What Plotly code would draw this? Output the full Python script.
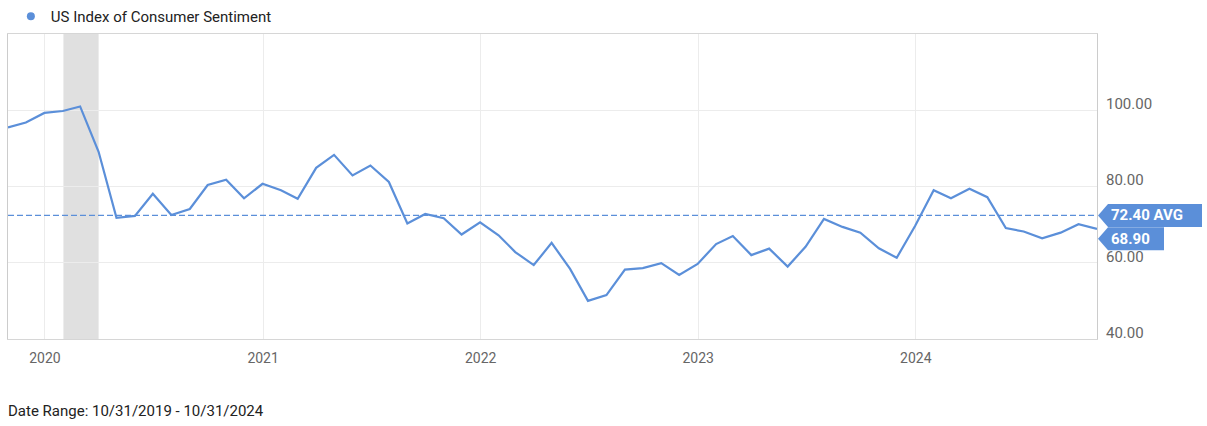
import pandas as pd
import plotly.graph_objects as go

# University of Michigan consumer sentiment, month-end readings
months = pd.date_range("2019-10-31", "2024-10-31", freq="ME")
sentiment = [
    95.5, 96.8, 99.3,                                                    # 2019
    99.8, 101.0, 89.1, 71.8, 72.3, 78.1, 72.5, 74.1, 80.4, 81.8, 76.9, 80.7,  # 2020
    79.0, 76.8, 84.9, 88.3, 82.9, 85.5, 81.2, 70.3, 72.8, 71.7, 67.4, 70.6,   # 2021
    67.2, 62.8, 59.4, 65.2, 58.4, 50.0, 51.5, 58.2, 58.6, 59.9, 56.8, 59.7,   # 2022
    64.9, 67.0, 62.0, 63.7, 59.0, 64.2, 71.5, 69.4, 67.9, 63.8, 61.3, 69.7,   # 2023
    79.0, 76.9, 79.4, 77.2, 69.1, 68.2, 66.4, 67.9, 70.1, 68.9,               # 2024
]
avg_value = 72.40
last_value = sentiment[-1]

recession_start = "2020-02-01"
recession_end = "2020-03-31"

year_ticks = ["2020-01-01", "2021-01-01", "2022-01-01", "2023-01-01", "2024-01-01"]
year_labels = ["2020", "2021", "2022", "2023", "2024"]
y_ticks = [40, 60, 80, 100]

series_name = "US Index of Consumer Sentiment"
date_range_text = "Date Range: 10/31/2019 - 10/31/2024"

blue = "#5B8FD9"
grid = "#ececec"
font = "Roboto"

fig = go.Figure()

fig.add_trace(go.Scatter(
    x=months, y=sentiment, mode="lines",
    line=dict(color=blue, width=2.2),
    showlegend=False, hoverinfo="skip",
))
# legend entry drawn as a dot
fig.add_trace(go.Scatter(
    x=[None], y=[None], mode="markers", name=series_name,
    marker=dict(color=blue, size=8),
))

# recession band
fig.add_shape(type="rect", xref="x", yref="paper",
              x0=recession_start, x1=recession_end, y0=0, y1=1,
              fillcolor="#e0e0e0", line_width=0, layer="below")

# average line
fig.add_shape(type="line", xref="paper", yref="y",
              x0=0, x1=1, y0=avg_value, y1=avg_value,
              line=dict(color=blue, width=1.2, dash="6px,3px"))

# value flags on the right
def flag(value, width, shift):
    path = (f"M 1,{shift} L 11,{shift + 11.5} L {width},{shift + 11.5} "
            f"L {width},{shift - 11.5} L 11,{shift - 11.5} Z")
    fig.add_shape(type="path", xref="paper", yref="y",
                  xsizemode="pixel", ysizemode="pixel",
                  xanchor=1, yanchor=value, path=path,
                  fillcolor=blue, line_width=0, layer="above")

flag(avg_value, 105, 0)
flag(last_value, 67, -10)

fig.add_annotation(xref="paper", yref="y", x=1, y=avg_value,
                   xanchor="left", yanchor="middle", xshift=12,
                   text=f"<b>{avg_value:.2f} AVG</b>", showarrow=False,
                   font=dict(family=font, size=15, color="white"))
fig.add_annotation(xref="paper", yref="y", x=1, y=last_value,
                   xanchor="left", yanchor="middle", xshift=12, yshift=-10,
                   text=f"<b>{last_value:.2f}</b>", showarrow=False,
                   font=dict(family=font, size=15, color="white"))

fig.add_annotation(xref="paper", yref="paper", x=0, y=-0.236,
                   xanchor="left", yanchor="middle", xshift=-2,
                   text=date_range_text, showarrow=False,
                   font=dict(family=font, size=15, color="#222222"))

fig.update_layout(
    width=1207, height=426,
    margin=dict(l=8, r=110, t=34, b=87, autoexpand=False),
    plot_bgcolor="white", paper_bgcolor="white",
    font=dict(family=font, size=14, color="#666666"),
    legend=dict(orientation="h", xref="container", yref="container",
                x=0.009, y=1.0, xanchor="left", yanchor="top",
                font=dict(family=font, size=15, color="#222222")),
    xaxis=dict(
        range=["2019-10-31", "2024-10-31"],
        tickvals=year_ticks, ticktext=year_labels,
        showgrid=True, gridcolor=grid,
        showline=True, linecolor="#d6d6d6", mirror=True,
        ticks="outside", ticklen=6, tickcolor="rgba(0,0,0,0)",
        zeroline=False,
    ),
    yaxis=dict(
        side="right", range=[40, 120],
        tickvals=y_ticks, tickformat=".2f",
        ticklabelposition="outside top",
        ticklabelstandoff=5, ticklabelshift=4,
        showgrid=True, gridcolor=grid,
        showline=True, linecolor="#cccccc", mirror=True,
        ticks="", zeroline=False,
        tickfont=dict(size=15),
    ),
)

fig.write_html("out.html", config={"displayModeBar": False},
               post_script="document.body.style.margin='0';")
